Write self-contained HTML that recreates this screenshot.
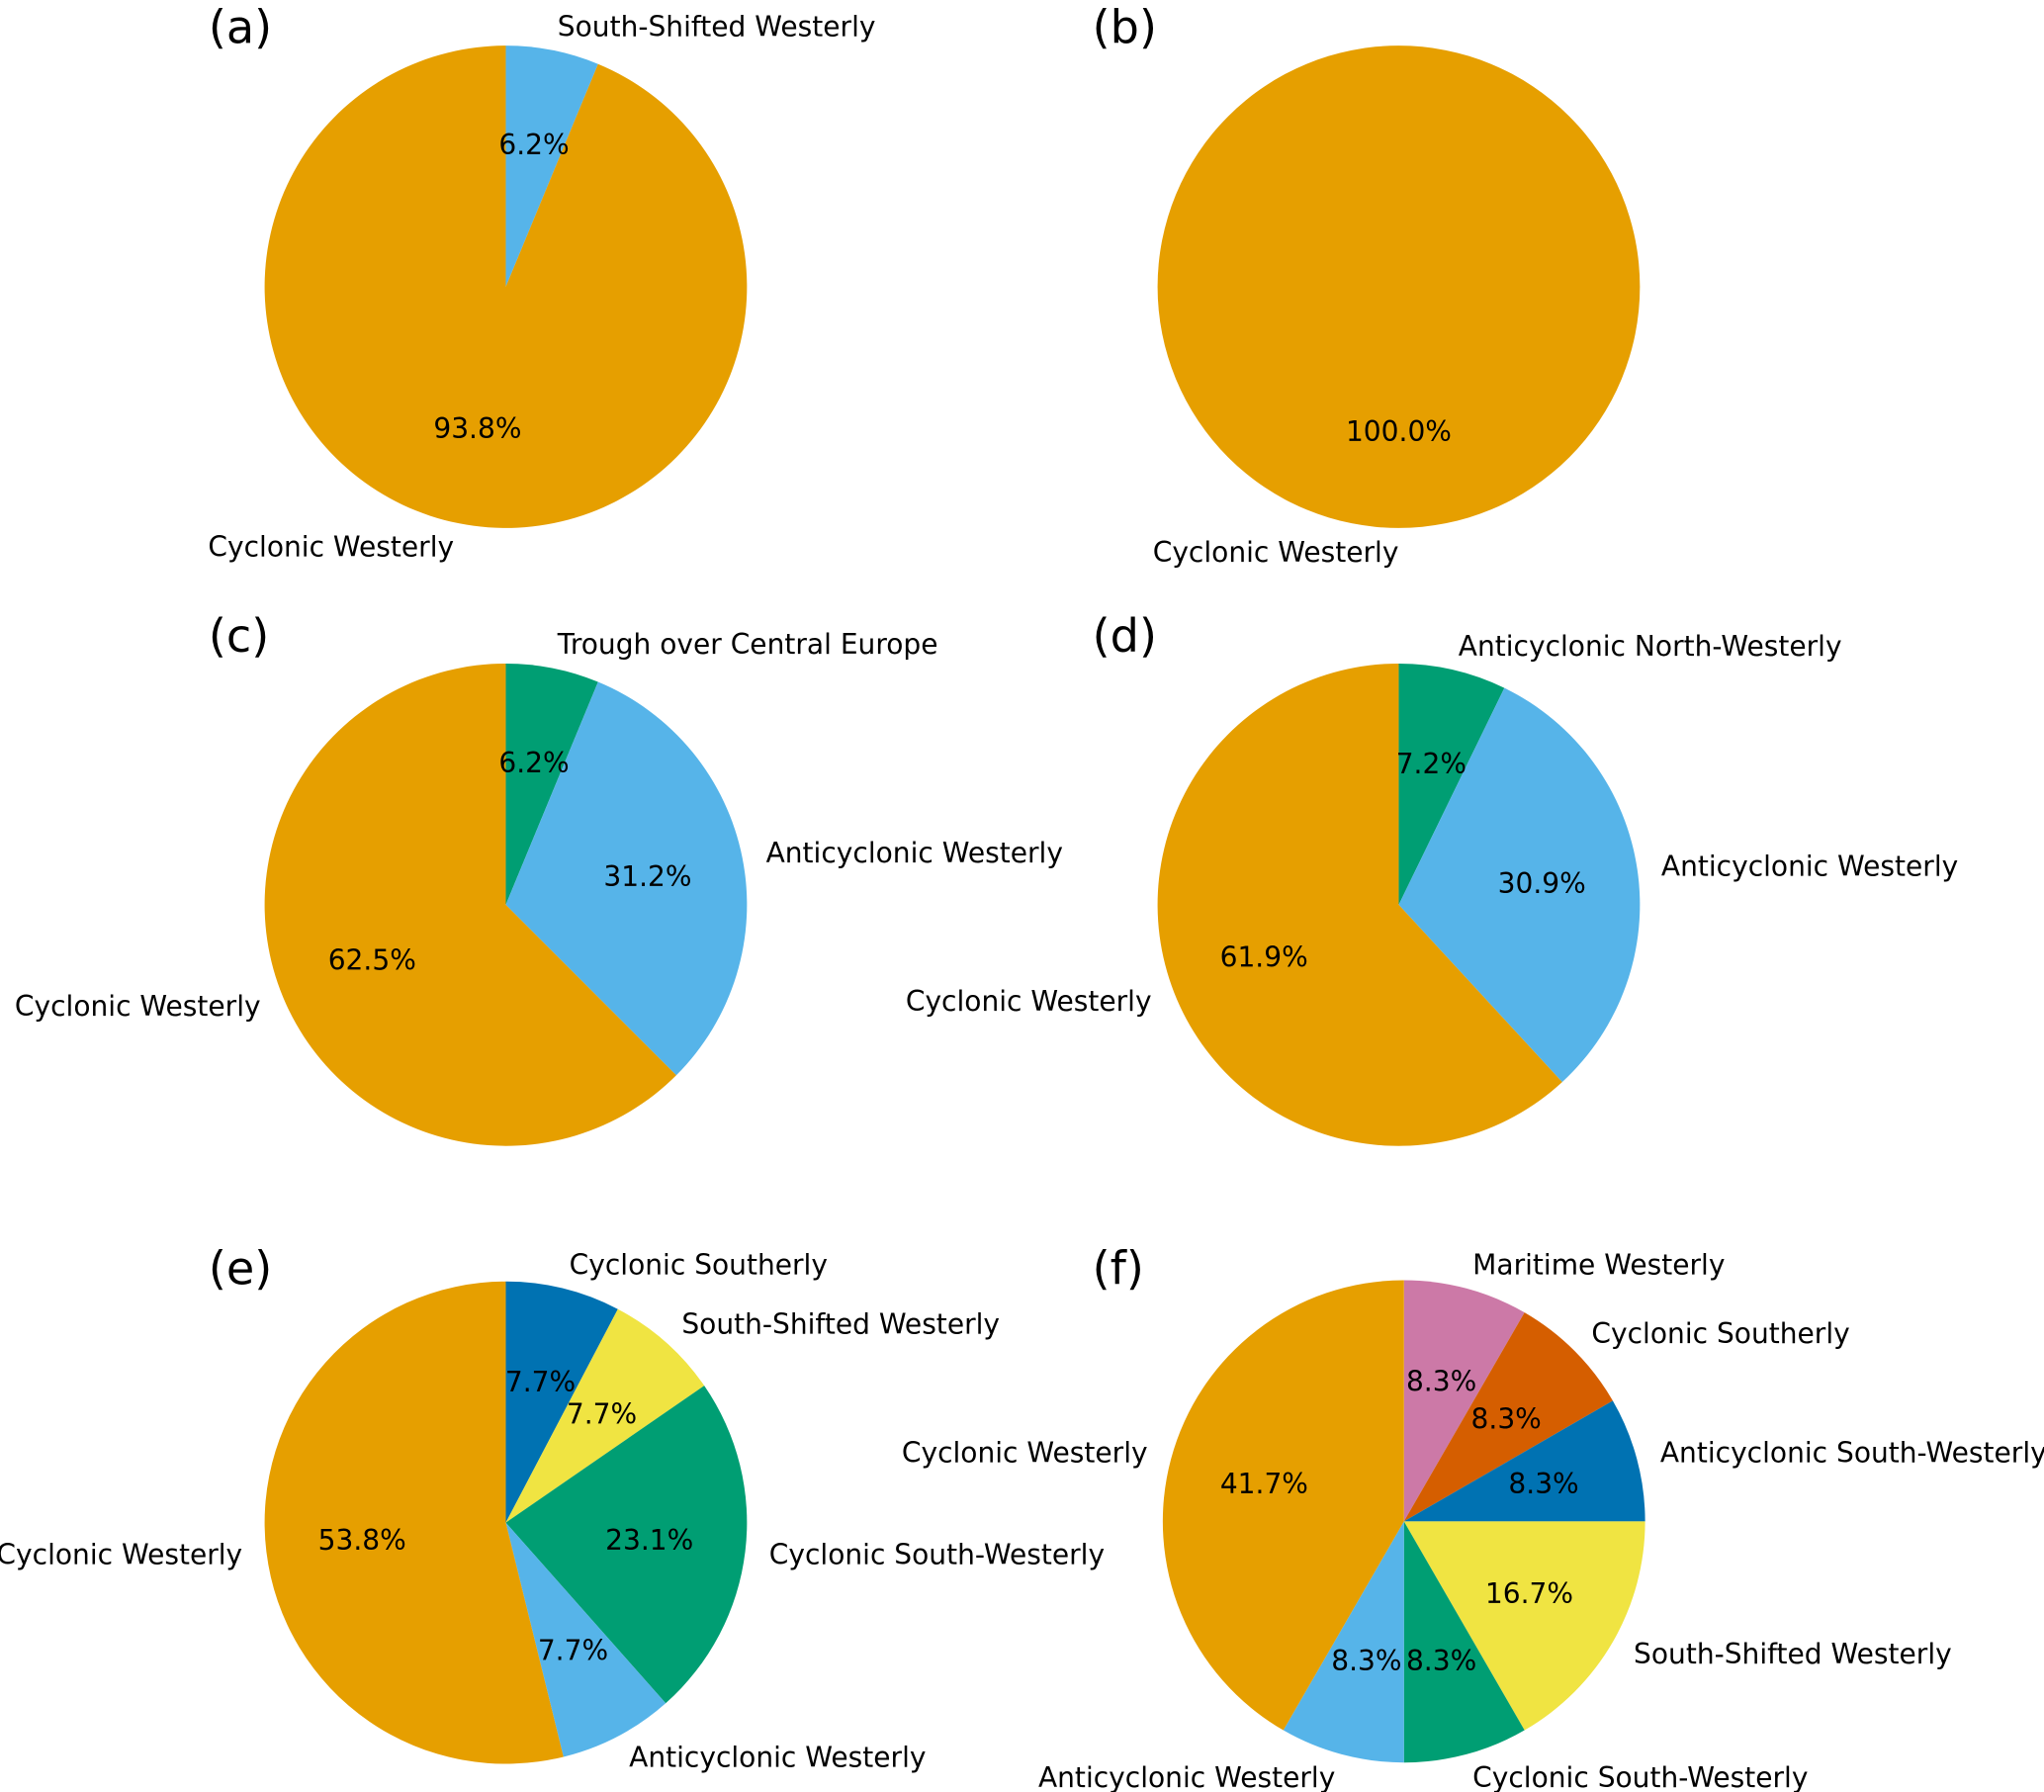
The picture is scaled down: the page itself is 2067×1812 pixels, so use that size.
<!DOCTYPE html>
<html><head><meta charset="utf-8">
<style>
html,body{margin:0;padding:0;background:#fff;}
svg{display:block;}
text{font-family:"DejaVu Sans","Liberation Sans",sans-serif;}
</style></head>
<body>
<svg id="chart" width="2067" height="1812" viewBox="0 0 1568 1374.6" preserveAspectRatio="none" xmlns="http://www.w3.org/2000/svg"></svg>
<script>
const C = {orange:"#E69F00", sky:"#56B4E9", green:"#009E73", yellow:"#F0E442", blue:"#0072B2", verm:"#D55E00", pink:"#CC79A7"};

const labelsA = ["South-Shifted Westerly","Cyclonic Westerly"];
const valuesA = [1,15];
const colorsA = [C.sky,C.orange];

const labelsB = ["Cyclonic Westerly"];
const valuesB = [1];
const colorsB = [C.orange];

const labelsC = ["Trough over Central Europe","Anticyclonic Westerly","Cyclonic Westerly"];
const valuesC = [1,5,10];
const colorsC = [C.green,C.sky,C.orange];

const labelsD = ["Anticyclonic North-Westerly","Anticyclonic Westerly","Cyclonic Westerly"];
const valuesD = [7,30,60];
const colorsD = [C.green,C.sky,C.orange];

const labelsE = ["Cyclonic Southerly","South-Shifted Westerly","Cyclonic South-Westerly","Anticyclonic Westerly","Cyclonic Westerly"];
const valuesE = [1,1,3,1,7];
const colorsE = [C.blue,C.yellow,C.green,C.sky,C.orange];

const labelsF = ["Maritime Westerly","Cyclonic Southerly","Anticyclonic South-Westerly","South-Shifted Westerly","Cyclonic South-Westerly","Anticyclonic Westerly","Cyclonic Westerly"];
const valuesF = [1,1,1,2,1,1,5];
const colorsF = [C.pink,C.verm,C.blue,C.yellow,C.green,C.sky,C.orange];

const panels = [
  {id:"a", cx:388, cy:220, lx:160, ly:33, labels:labelsA, values:valuesA, colors:colorsA},
  {id:"b", cx:1073, cy:220, lx:838, ly:33, labels:labelsB, values:valuesB, colors:colorsB},
  {id:"c", cx:388, cy:694, lx:160, ly:500, labels:labelsC, values:valuesC, colors:colorsC},
  {id:"d", cx:1073, cy:694, lx:838, ly:500, labels:labelsD, values:valuesD, colors:colorsD},
  {id:"e", cx:388, cy:1168, lx:160, ly:985, labels:labelsE, values:valuesE, colors:colorsE},
  {id:"f", cx:1077, cy:1167, lx:838, ly:985, labels:labelsF, values:valuesF, colors:colorsF}
];
const R = 185;
const FS = 21.3;
const NS = "http://www.w3.org/2000/svg";
const svg = document.getElementById("chart");

function fmtPct(p){
  const s = p*10;
  const fl = Math.floor(s);
  let r;
  if (Math.abs(s - fl - 0.5) < 1e-9) r = (fl % 2 === 0) ? fl : fl + 1;
  else r = Math.round(s);
  return (r/10).toFixed(1) + "%";
}
function pt(cx, cy, r, frac){ const a = frac*2*Math.PI; return [cx + r*Math.sin(a), cy - r*Math.cos(a)]; }

panels.forEach(p => {
  const g = document.createElementNS(NS,"g");
  
  
  svg.appendChild(g);
  const wedges = document.createElementNS(NS,"g");
  
  
  g.appendChild(wedges);
  const texts = document.createElementNS(NS,"g");
  
  
  g.appendChild(texts);
  const total = p.values.reduce((s,v)=>s+v,0);
  let acc = 0;
  p.values.forEach((v,i) => {
    const f0 = acc/total, f1 = (acc+v)/total; acc += v;
    let el;
    if (v === total) {
      el = document.createElementNS(NS,"circle");
      el.setAttribute("cx",p.cx); el.setAttribute("cy",p.cy); el.setAttribute("r",R);
    } else {
      const [x0,y0] = pt(p.cx,p.cy,R,f0), [x1,y1] = pt(p.cx,p.cy,R,f1);
      const large = (f1-f0) > 0.5 ? 1 : 0;
      el = document.createElementNS(NS,"path");
      el.setAttribute("d",`M${p.cx},${p.cy} L${x0},${y0} A${R},${R} 0 ${large} 1 ${x1},${y1} Z`);
    }
    el.setAttribute("fill",p.colors[i]);
    
    
    wedges.appendChild(el);
    const fm = (f0+f1)/2;
    const [lx,ly] = pt(p.cx,p.cy,R*1.1,fm);
    const t = document.createElementNS(NS,"text");
    t.setAttribute("x",lx); t.setAttribute("y",ly);
    t.setAttribute("font-size",FS);
    t.setAttribute("dominant-baseline","central");
    t.setAttribute("text-anchor", (lx - p.cx) > 1e-6 ? "start" : "end");
    t.textContent = p.labels[i];
    
    
    texts.appendChild(t);
    const [px,py] = pt(p.cx,p.cy,R*0.6,fm);
    const pc = document.createElementNS(NS,"text");
    pc.setAttribute("x",px); pc.setAttribute("y",py);
    pc.setAttribute("font-size",FS);
    pc.setAttribute("dominant-baseline","central");
    pc.setAttribute("text-anchor","middle");
    pc.textContent = fmtPct(100*v/total);
    
    
    texts.appendChild(pc);
  });
  const L = document.createElementNS(NS,"text");
  L.setAttribute("x",p.lx); L.setAttribute("y",p.ly);
  L.setAttribute("font-size","35");
  L.textContent = "(" + p.id + ")";
  
  
  texts.appendChild(L);
});
</script>
</body></html>
